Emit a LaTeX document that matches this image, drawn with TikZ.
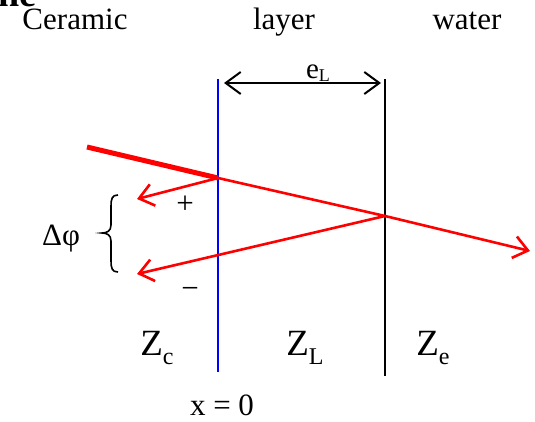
\documentclass[tikz,border=0pt]{standalone}
\usepackage{fontspec}
\setmainfont{Liberation Serif}
\usetikzlibrary{arrows.meta}
\newcommand\zsubl[2]{#1\raisebox{-9pt}{\fontsize{24}{24}\selectfont #2}}
\begin{document}
\begin{tikzpicture}[x=1pt,y=-1pt,
  txt/.style={font=\fontsize{31}{31}\selectfont, inner sep=0pt, anchor=base},
  ztxt/.style={font=\fontsize{37}{37}\selectfont, inner sep=0pt, anchor=base},
  ray/.style={draw=red, line width=2.6pt},
  redtip/.style={-{Straight Barb[length=14pt,width=22pt,line width=2.6pt]}},
  dimtip/.style={{Straight Barb[length=15pt,width=22pt,line width=2pt]}-{Straight Barb[length=15pt,width=22pt,line width=2pt]}},
  iface/.style={line width=2pt}]
\useasboundingbox (0,0) rectangle (535,422);
\clip (0,0) rectangle (535,422);
% header texts
\node[txt, font=\bfseries\fontsize{38}{38}\selectfont, anchor=base east, text depth=0pt] (ne) at (37,7) {ne};
\node[txt] (ceramic) at (75,30) {Ceramic};
\node[txt] (layer) at (284,30) {layer};
\node[txt] (water) at (467,30) {water};
% interfaces
\coordinate (b1) at (218,79); \coordinate (b2) at (218,372);
\coordinate (k1) at (385,79); \coordinate (k2) at (385,376);
\draw[iface, draw=blue] (b1) -- (b2);
\draw[iface, draw=black] (k1) -- (k2);
% thickness dimension
\coordinate (eLa) at (224,83); \coordinate (eLb) at (381,83);
\draw[iface, dimtip] (eLa) -- (eLb);
\node[inner sep=0pt, anchor=base, font=\fontsize{29}{29}\selectfont] (eL) at (318,79) {e\raisebox{-3pt}{\fontsize{18}{18}\selectfont L}};
% rays
\coordinate (S) at (87,147);
\coordinate (A) at (218,178);
\coordinate (B) at (385,216);
\coordinate (T) at (530,251);
\coordinate (R1) at (137,199);
\coordinate (R2) at (137,274);
\draw[red, line width=5pt] (S) -- (A);
\draw[ray, redtip] (A) -- (B) -- (T);
\draw[ray, redtip] (A) -- (R1);
\draw[ray, redtip] (B) -- (R2);
% brace
\draw[line width=1.6pt] (118,195) .. controls (112,195) and (111,199) .. (111,206) -- (111,225) .. controls (111,231) and (107,233) .. (102,233) .. controls (107,233) and (111,235) .. (111,241) -- (111,261) .. controls (111,268) and (112,272) .. (118,272);
\node[txt] (dphi) at (61,245) {Δφ};
\node[txt, anchor=center] (plus) at (185,205) {+};
\node[txt, anchor=center] (minus) at (190,293) {−};
% impedances
\node[ztxt] (Zc) at (157,355) {\zsubl{Z}{c}};
\node[ztxt] (ZL) at (305,355) {\zsubl{Z}{L}};
\node[ztxt] (Ze) at (433,355) {\zsubl{Z}{e}};
\node[txt, text depth=0pt] (x0) at (222,415) {x = 0};
\end{tikzpicture}
\end{document}
